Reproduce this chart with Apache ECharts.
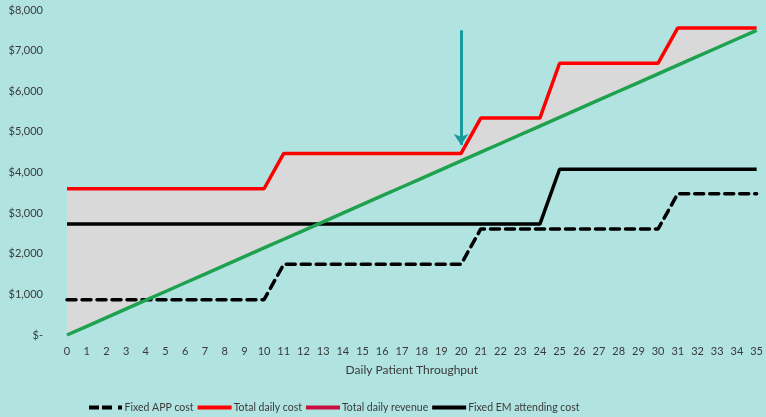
<!DOCTYPE html>
<html>
<head>
<meta charset="utf-8">
<script src="https://cdn.jsdelivr.net/npm/echarts@6/dist/echarts.min.js"></script>
<style>
  html, body { margin: 0; padding: 0; background: #b1e3e1; }
  #chart { width: 766px; height: 417px; }
</style>
</head>
<body>
<div id="chart"></div>
<script>
// Daily patient throughput (x axis)
const patients = Array.from({ length: 36 }, (_, i) => String(i));

// Fixed APP staffing cost per day
const fixedAppCost = [
  870, 870, 870, 870, 870, 870, 870, 870, 870, 870, 870,
  1740, 1740, 1740, 1740, 1740, 1740, 1740, 1740, 1740, 1740,
  2610, 2610, 2610, 2610, 2610, 2610, 2610, 2610, 2610, 2610,
  3480, 3480, 3480, 3480, 3480
];

// Fixed EM attending cost per day
const fixedEmCost = [
  2730, 2730, 2730, 2730, 2730, 2730, 2730, 2730, 2730, 2730, 2730,
  2730, 2730, 2730, 2730, 2730, 2730, 2730, 2730, 2730, 2730,
  2730, 2730, 2730, 2730,
  4080, 4080, 4080, 4080, 4080, 4080, 4080, 4080, 4080, 4080, 4080
];

// Total daily cost
const totalDailyCost = [
  3600, 3600, 3600, 3600, 3600, 3600, 3600, 3600, 3600, 3600, 3600,
  4470, 4470, 4470, 4470, 4470, 4470, 4470, 4470, 4470, 4470,
  5340, 5340, 5340, 5340,
  6690, 6690, 6690, 6690, 6690, 6690,
  7560, 7560, 7560, 7560, 7560
];

// Total daily revenue
const totalDailyRevenue = [
  0, 214, 429, 643, 857, 1071, 1286, 1500, 1714, 1929, 2143,
  2357, 2571, 2786, 3000, 3214, 3429, 3643, 3857, 4071, 4286,
  4500, 4714, 4929, 5143, 5357, 5571, 5786, 6000, 6214, 6429,
  6643, 6857, 7071, 7286, 7500
];

// Break-even marker
const breakEvenPatients = '20';
const markerTop = 7500;
const markerTip = 4680;

// Shortfall band between revenue and cost
const shortfall = totalDailyCost.map((c, i) => c - totalDailyRevenue[i]);

const textColor = '#3a3a3a';
const font = 'Lato, "Open Sans", sans-serif';

const chart = echarts.init(document.getElementById('chart'));
chart.setOption({
  backgroundColor: '#b1e3e1',
  animation: false,
  grid: { left: 67, right: 7, top: 10, bottom: 82, containLabel: false },
  xAxis: {
    type: 'category',
    data: patients,
    boundaryGap: false,
    name: 'Daily Patient Throughput',
    nameLocation: 'middle',
    nameGap: 29,
    nameTextStyle: { color: textColor, fontSize: 12, fontFamily: font },
    axisLine: { show: false },
    axisTick: { show: false },
    axisLabel: { interval: 0, color: textColor, fontSize: 11, fontFamily: font, margin: 11 }
  },
  yAxis: {
    type: 'value',
    min: 0,
    max: 8000,
    interval: 1000,
    splitLine: { show: false },
    axisLine: { show: false },
    axisTick: { show: false },
    axisLabel: {
      color: textColor, fontSize: 11, fontFamily: font, margin: 24,
      formatter: v => v === 0 ? '$-' : '$' + v.toLocaleString('en-US')
    }
  },
  legend: {
    top: 397,
    left: 84,
    itemWidth: 34,
    itemHeight: 4,
    itemGap: 4,
    textStyle: { color: textColor, fontSize: 10.5, fontFamily: font, padding: [0, 0, 0, -3] },
    data: [
      { name: 'Fixed APP cost', icon: 'path://M0,0h10v4h-10z M13,0h10v4h-10z M29,0h4v4h-4z', itemStyle: { color: '#000000' } },
      { name: 'Total daily cost', icon: 'rect', itemStyle: { color: '#ff0000' } },
      { name: 'Total daily revenue', icon: 'rect', itemStyle: { color: '#c8103f' } },
      { name: 'Fixed EM attending cost', icon: 'rect', itemStyle: { color: '#000000' } }
    ]
  },
  series: [
    {
      name: 'band-base',
      type: 'line',
      stack: 'band',
      data: totalDailyRevenue,
      symbol: 'none',
      lineStyle: { opacity: 0 },
      silent: true,
      z: 1
    },
    {
      name: 'band-fill',
      type: 'line',
      stack: 'band',
      data: shortfall,
      symbol: 'none',
      lineStyle: { opacity: 0 },
      areaStyle: { color: '#d9d9d9', opacity: 1 },
      silent: true,
      z: 1
    },
    {
      name: 'Fixed APP cost',
      type: 'line',
      data: fixedAppCost,
      symbol: 'none',
      lineStyle: { color: '#000000', width: 3.5, type: [9, 6], cap: 'round' },
      itemStyle: { color: '#000000' },
      z: 3
    },
    {
      name: 'Fixed EM attending cost',
      type: 'line',
      data: fixedEmCost,
      symbol: 'none',
      lineStyle: { color: '#000000', width: 3.5 },
      itemStyle: { color: '#000000' },
      z: 3
    },
    {
      name: 'Total daily cost',
      type: 'line',
      data: totalDailyCost,
      symbol: 'none',
      lineStyle: { color: '#ff0000', width: 3.5 },
      itemStyle: { color: '#ff0000' },
      z: 4
    },
    {
      name: 'Total daily revenue',
      type: 'line',
      data: totalDailyRevenue,
      symbol: 'none',
      lineStyle: { color: '#1fa24f', width: 3.5 },
      itemStyle: { color: '#c8103f' },
      z: 5,
      markLine: {
        silent: true,
        symbol: ['none', 'arrow'],
        symbolSize: [11, 11],
        label: { show: false },
        lineStyle: { color: '#17999e', width: 3, type: 'solid' },
        data: [[
          { coord: [breakEvenPatients, markerTop] },
          { coord: [breakEvenPatients, markerTip] }
        ]]
      }
    }
  ]
});
</script>
</body>
</html>
